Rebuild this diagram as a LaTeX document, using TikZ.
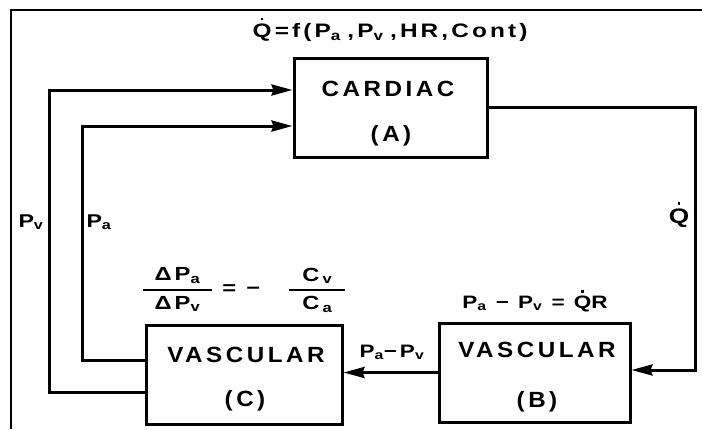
\documentclass[tikz,border=0pt]{standalone}
\usepackage{fontspec}
\usepackage{amsmath}
\setmainfont{Liberation Sans}
\newfontfamily\boxfont{Liberation Sans Bold}[LetterSpace=16,FakeStretch=1.1]
\newfontfamily\eqfont{Liberation Sans Bold}[LetterSpace=16,FakeStretch=1.25]
\usetikzlibrary{arrows.meta}
\newcommand\Qd{{\ooalign{Q\cr\hidewidth\raisebox{0.86em}{\rule{0.14em}{0.14em}}\hidewidth\cr}}}
\newcommand\sbs[1]{\textsubscript{#1}}
\begin{document}
\begin{tikzpicture}[x=1pt,y=-1pt,
  blk/.style={draw,line width=3pt,inner sep=0pt},
  conn/.style={line width=3pt},
  arr/.style={conn,-{Stealth[length=21pt,width=11pt,inset=2pt]}},
  boxtxt/.style={font=\boxfont\fontsize{22}{24}\selectfont,inner sep=0pt,anchor=base},
  eqtxt/.style={font=\eqfont\fontsize{18}{20}\selectfont,inner sep=0pt,anchor=base},
  topeq/.style={font=\eqfont\fontsize{19.5}{22}\selectfont,inner sep=0pt,anchor=base},
  fraceq/.style={font=\eqfont\fontsize{19}{22}\selectfont,inner sep=0pt},
  bigtxt/.style={font=\eqfont\fontsize{18.5}{22}\selectfont,inner sep=0pt,anchor=base}]
\useasboundingbox (0,0) rectangle (702,429);
\draw[line width=1.5pt] (11,429) -- (11,10) -- (702,10);
% blocks
\node[blk,minimum width=193pt,minimum height=99pt] (A) at (390.5,107.5) {};
\node[blk,minimum width=191pt,minimum height=99pt] (B) at (534.5,372.5) {};
\node[blk,minimum width=196pt,minimum height=99pt] (C) at (244,374.5) {};
% block texts
\node[boxtxt] (Aname) at (388,96) {CARDIAC};
\node[boxtxt] (Aid) at (391,141) {(A)};
\node[boxtxt] (Bname) at (537,357) {VASCULAR};
\node[boxtxt] (Bid) at (537,407) {(B)};
\node[boxtxt] (Cname) at (246,362) {VASCULAR};
\node[boxtxt] (Cid) at (245,406) {(C)};
% connectors
\draw[arr] ([yshift=-17.5pt]C.west) -| (49,90) -- ([yshift=17.5pt]A.west);
\draw[arr] ([yshift=14.5pt]C.west) -| (82,126) -- ([yshift=-18.5pt]A.west);
\draw[arr] (A.east) -| (695,370) -- ([yshift=2.5pt]B.east);
\draw[arr] (B.west) -- (B.west -| C.east);
% labels
\node[topeq] (fQ) at (390,37) {\Qd\,=\,f(P\sbs{a}\,\,,P\sbs{v}\,\,,HR,Cont)};
\node[bigtxt] (lPv) at (31,227) {P\sbs{v}};
\node[bigtxt] (lPa) at (99,227) {P\sbs{a}};
\node[font=\eqfont\fontsize{21}{23}\selectfont,inner sep=0pt,anchor=base] (lQ) at (679,223) {\Qd};
\node[eqtxt] (lB) at (535,308) {P\sbs{a} − P\sbs{v} = \Qd R};
\node[eqtxt] (lBC) at (392,357) {P\sbs{a}−P\sbs{v}};
\node[fraceq] (lC) at (244,290) {$\genfrac{}{}{1.8pt}{0}{\mbox{\hspace{12pt}ΔP\sbs{a}\hspace{12pt}}}{\mbox{ΔP\sbs{v}}}\mbox{\hspace{9pt}=\hspace{10pt}−\hspace{28pt}}\genfrac{}{}{1.8pt}{0}{\mbox{\hspace{13pt}C\,\sbs{v}\hspace{13pt}}}{\mbox{C\,\sbs{a}}}$};
\end{tikzpicture}
\end{document}
